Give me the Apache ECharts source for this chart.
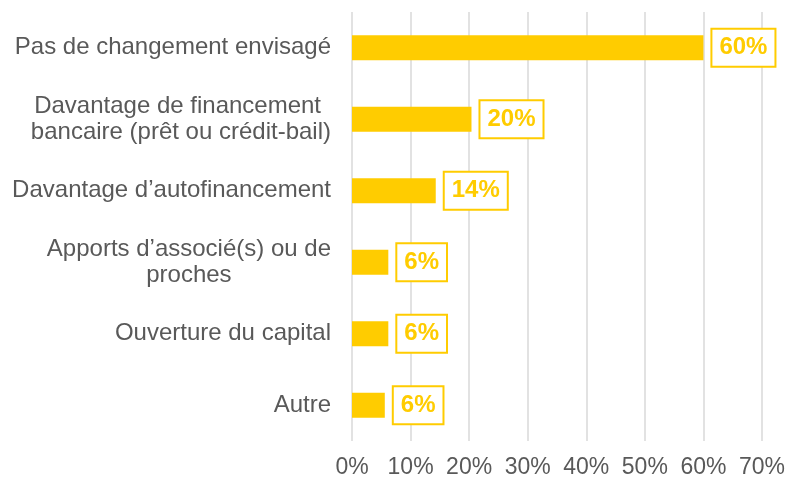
<!DOCTYPE html>
<html>
<head>
<meta charset="utf-8">
<script src="https://cdn.jsdelivr.net/npm/echarts@6/dist/echarts.min.js"></script>
<style>
  html, body { margin: 0; padding: 0; background: #fff; }
  #chart { width: 788px; height: 479px; }
</style>
</head>
<body>
<div id="chart"></div>
<script>
const categories = [
  'Pas de changement envisagé',
  'Davantage de financement \nbancaire (prêt ou crédit-bail)',
  'Davantage d\u2019autofinancement',
  'Apports d\u2019associé(s) ou de\nproches',
  'Ouverture du capital',
  'Autre'
];
const values = [60.0, 20.4, 14.3, 6.2, 6.2, 5.6];
const tickValues = [0, 10, 20, 30, 40, 50, 60, 70];

const yellow = '#FFCC00';
const grey = '#595959';
const font = '"Liberation Sans", Arial, sans-serif';

const chart = echarts.init(document.getElementById('chart'));

chart.setOption({
  backgroundColor: '#fff',
  animation: false,
  grid: { left: 352, right: 24.5, top: 12, bottom: 38 },
  xAxis: {
    type: 'value',
    min: tickValues[0],
    max: tickValues[tickValues.length - 1],
    interval: 10,
    axisLine: { show: false },
    axisTick: { show: false },
    splitLine: { show: true, lineStyle: { color: '#d9d9d9', width: 1.5 } },
    axisLabel: {
      color: grey, fontSize: 23, fontFamily: font, margin: 15,
      formatter: v => v + '%'
    }
  },
  yAxis: {
    type: 'category',
    inverse: true,
    data: categories,
    axisLine: { show: false },
    axisTick: { show: false },
    axisLabel: {
      margin: 21,
      formatter: v => v.split('\n').map(l => '{c|' + l + '}').join('\n'),
      rich: {
        c: { align: 'center', color: grey, fontSize: 24, fontFamily: font, lineHeight: 26 }
      }
    }
  },
  series: [{
    type: 'bar',
    data: values,
    barWidth: 25,
    itemStyle: { color: yellow },
    label: {
      show: true,
      position: 'right',
      distance: 9,
      formatter: p => Math.round(p.value) + '%',
      color: yellow,
      fontSize: 24,
      fontWeight: 'bold',
      fontFamily: font,
      lineHeight: 24,
      backgroundColor: '#fff',
      borderColor: yellow,
      borderWidth: 2,
      padding: [6, 7, 6, 7]
    }
  }]
});
</script>
</body>
</html>
